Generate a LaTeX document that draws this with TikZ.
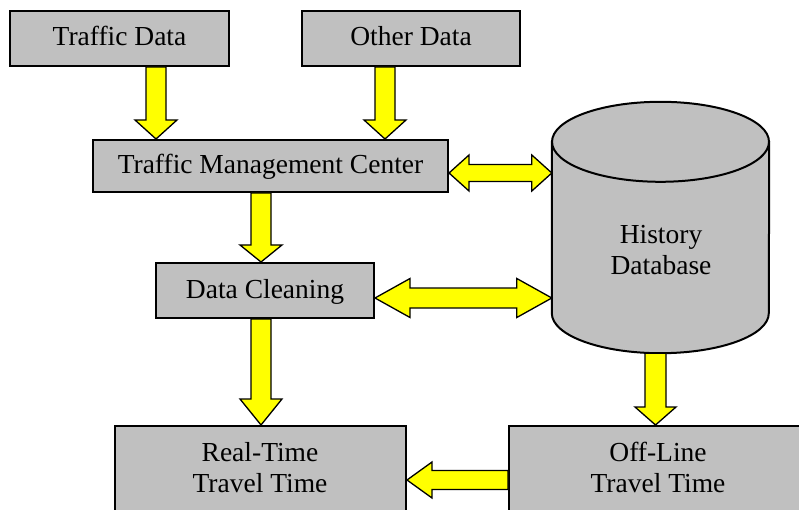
\documentclass[tikz,border=0pt]{standalone}
\usepackage{fontspec}
\setmainfont{Liberation Serif}
\usetikzlibrary{calc}

\definecolor{boxgray}{HTML}{C0C0C0}
\definecolor{flowyellow}{HTML}{FFFF00}

\tikzset{
  box/.style={draw=black, line width=2pt, fill=boxgray, rectangle, inner sep=0pt,
    font=\fontsize{27.5}{31.5}\selectfont, text height=19pt, text depth=4pt},
  openbox/.style={draw=black, line width=2pt, fill=boxgray, rectangle, inner sep=0pt},
  boxtext/.style={inner sep=0pt, align=center, font=\fontsize{27.5}{31.5}\selectfont},
  cyl/.style={draw=black, line width=2pt, fill=boxgray},
  blockarrow/.style={draw=black, line width=1.3pt, fill=flowyellow, line join=miter},
}

% single block arrow: start, tip, half shaft width, half head width, head length
\newcommand\fatarrow[5]{%
  \coordinate (fa-n) at ($(#2)!#5!(#1)$);
  \filldraw[blockarrow] ($(#1)!#3!90:(#2)$) -- ($(fa-n)!#3!90:(#2)$)
    -- ($(fa-n)!#4!90:(#2)$) -- (#2) -- ($(fa-n)!#4!-90:(#2)$)
    -- ($(fa-n)!#3!-90:(#2)$) -- ($(#1)!#3!-90:(#2)$) -- cycle;}

% double block arrow: end, end, half shaft width, half head width, head length
\newcommand\fatdarrow[5]{%
  \coordinate (fa-a) at ($(#1)!#5!(#2)$);
  \coordinate (fa-b) at ($(#2)!#5!(#1)$);
  \filldraw[blockarrow] (#1) -- ($(fa-a)!#4!90:(#2)$) -- ($(fa-a)!#3!90:(#2)$)
    -- ($(fa-b)!#3!90:(#2)$) -- ($(fa-b)!#4!90:(#2)$) -- (#2)
    -- ($(fa-b)!#4!-90:(#2)$) -- ($(fa-b)!#3!-90:(#2)$)
    -- ($(fa-a)!#3!-90:(#2)$) -- ($(fa-a)!#4!-90:(#2)$) -- cycle;}

\begin{document}
\begin{tikzpicture}[x=1pt, y=-1pt]
\useasboundingbox (0,0) rectangle (799,510);
\clip (0,0) rectangle (799,510);

% boxes
\node[box, minimum width=219pt, minimum height=55pt] (td) at (119.5,38.5) {Traffic Data};
\node[box, minimum width=218pt, minimum height=55pt] (od) at (411,38.5) {Other Data};
\node[box, minimum width=355pt, minimum height=52pt] (tmc) at (270.5,166) {Traffic Management Center};
\node[box, minimum width=218pt, minimum height=55pt] (dc) at (265,290.5) {Data Cleaning};
\node[openbox, minimum width=291pt, minimum height=140pt] (rt) at (260.5,496) {};
\node[openbox, minimum width=300pt, minimum height=140pt] (ol) at (659,496) {};
\node[boxtext] (rtlabel) at (260,467.4) {Real-Time\\Travel Time};
\node[boxtext] (ollabel) at (658,467.4) {Off-Line\\Travel Time};

% history database cylinder
\node[minimum width=217pt, minimum height=251pt, inner sep=0pt] (db) at (660.5,227.5) {};
\filldraw[cyl] ([yshift=-40pt]db.north west) -- ([yshift=40pt]db.south west)
  arc[start angle=180, end angle=360, x radius=108.5pt, y radius=40pt]
  -- ([yshift=-40pt]db.north east) -- cycle;
\filldraw[cyl] ([yshift=-40pt]db.north) ellipse[x radius=108.5pt, y radius=40pt];
\node[boxtext] (dblabel) at (661,249.8) {History\\Database};

% connector end points
\coordinate (p1) at ([xshift=36.5pt]td.south);   \coordinate (q1) at (p1 |- tmc.north);
\coordinate (p2) at ([xshift=-26pt]od.south);    \coordinate (q2) at (p2 |- tmc.north);
\coordinate (p3) at ([xshift=-9.5pt]tmc.south);  \coordinate (q3) at (p3 |- dc.north);
\coordinate (p4) at ([xshift=-4pt]dc.south);     \coordinate (q4) at (p4 |- rt.north);
\coordinate (p5) at ([xshift=-5pt]db.south);     \coordinate (q5) at (p5 |- ol.north);
\coordinate (p6) at ([yshift=16pt]ol.west);      \coordinate (q6) at (p6 -| rt.east);
\coordinate (p7) at ([yshift=-7pt]tmc.east);     \coordinate (q7) at (p7 -| db.west);
\coordinate (p8) at ([yshift=-7.5pt]dc.east);    \coordinate (q8) at (p8 -| db.west);

% flows
\fatarrow{p1}{q1}{10pt}{21pt}{19pt}
\fatarrow{p2}{q2}{10pt}{21pt}{19pt}
\fatarrow{p3}{q3}{10pt}{21pt}{17pt}
\fatarrow{p4}{q4}{10pt}{21pt}{26pt}
\fatarrow{p5}{q5}{10.5pt}{20.5pt}{18pt}
\fatarrow{p6}{q6}{9.5pt}{18pt}{25pt}
\fatdarrow{p7}{q7}{8.5pt}{18pt}{20pt}
\fatdarrow{p8}{q8}{10pt}{19.5pt}{35pt}
\end{tikzpicture}
\end{document}
